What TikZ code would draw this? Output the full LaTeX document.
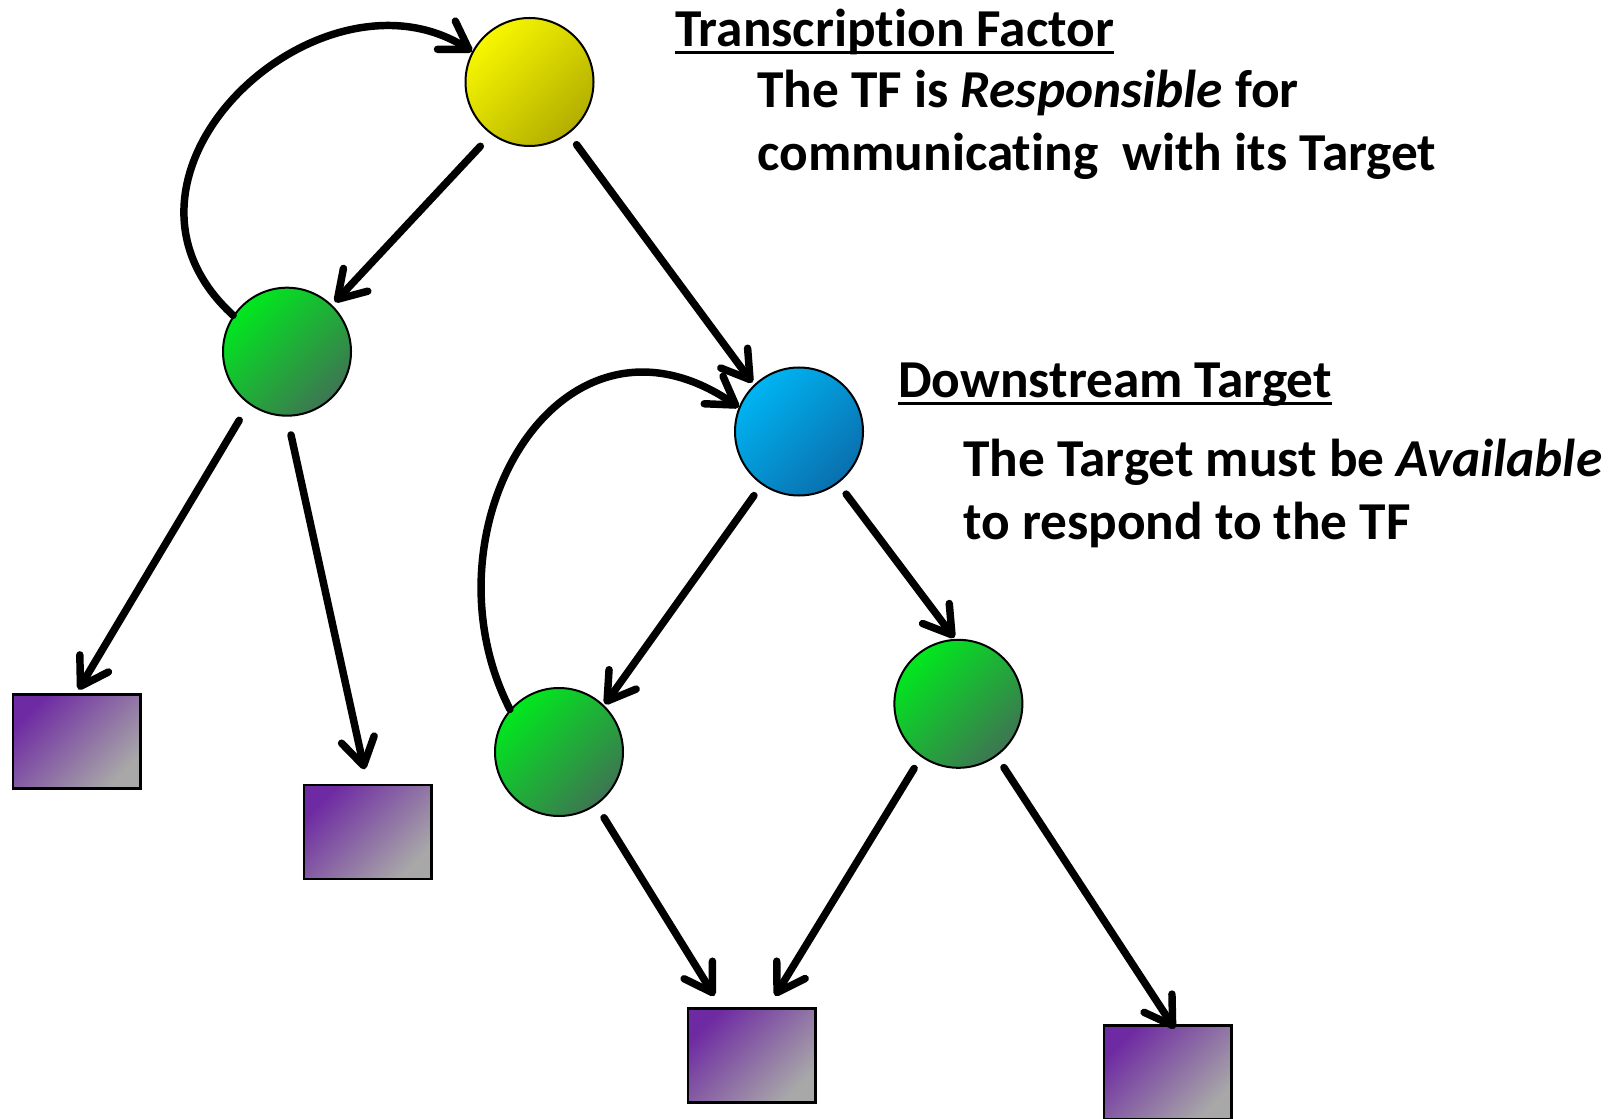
\documentclass[tikz,border=0pt]{standalone}
\usepackage{fontspec}
\setmainfont{Carlito}[Ligatures=CommonOff]
\usetikzlibrary{arrows.meta,calc}

\definecolor{yelA}{HTML}{F7F700}
\definecolor{yelB}{HTML}{B3AE00}
\definecolor{grnA}{HTML}{00E81E}
\definecolor{grnB}{HTML}{3E7552}
\definecolor{bluA}{HTML}{00B4F2}
\definecolor{bluB}{HTML}{0A6FAE}
\definecolor{purA}{HTML}{6E2AA2}
\definecolor{purB}{HTML}{A8A8A8}

\begin{document}
\begin{tikzpicture}[x=0.75pt,y=0.75pt,yscale=-1,xscale=1,
  ball/.style={circle,draw=black,line width=1.5pt,minimum size=96pt,inner sep=0pt},
  yball/.style={ball,top color=yelA,bottom color=yelB,shading angle=45},
  gball/.style={ball,top color=grnA,bottom color=grnB,shading angle=45},
  bball/.style={ball,top color=bluA,bottom color=bluB,shading angle=45},
  box/.style={rectangle,draw=black,line width=2pt,minimum width=95.5pt,minimum height=70.5pt,inner sep=0pt,
    top color=purA,bottom color=purB,shading angle=45},
  link/.style={line width=5.6pt,line cap=round,-{Straight Barb[length=20pt,width=25pt,round]}},
  lbl/.style={anchor=base west,inner sep=0pt,font=\fontsize{40}{48}\selectfont\bfseries},
  uline/.style={line width=2.3pt}]
\useasboundingbox (0,0) rectangle (1623,1119);

%Circles
\node (tf)  [yball] at (529.5,82) {};
\node (g1)  [gball] at (287,351.7) {};
\node (tgt) [bball] at (799,431.5) {};
\node (g2)  [gball] at (559,752) {};
\node (g3)  [gball] at (958.4,703.8) {};

%Boxes
\node (r1) [box] at (76.5,741.3) {};
\node (r2) [box] at (367.5,832) {};
\node (r3) [box] at (751.5,1055.5) {};
\node (r4) [box] at (1167.5,1072.5) {};

%Straight arrows
\draw [link,shorten <=12pt,shorten >=3pt] (tf.-126) -- (g1.46);
\draw [link,shorten <=10pt,shorten >=2pt] (tf.-53) -- (tgt.134);
\draw [link,shorten <=14pt,shorten >=3pt] (g1.-126) -- (r1.north);
\draw [link,shorten <=14pt,shorten >=11pt] (g1.-90) -- (r2.north);
\draw [link,shorten <=10pt,shorten >=1pt] (tgt.-125) -- (g2.46);
\draw [link,shorten <=10pt,shorten >=1pt] (tgt.-53) -- (g3.93);
\draw [link,shorten <=11pt,shorten >=10pt] (g2.-55) -- (r3.122);
\draw [link,shorten <=10pt,shorten >=10pt] (g3.-125) -- (r3.71);
\draw [link,shorten <=10pt,shorten >=-4pt] (g3.-54) -- (r4.85);

%Curved arrows
\draw [link] (g1.146) .. controls (80,175) and (320,-45) .. (tf.152);
\draw [link] (g2.139) .. controls (418,530) and (560,285) .. (tgt.158);

% Text Node
\node (hd1) [lbl] at (675,46.6) {Transcription Factor};
\draw [uline] ($(hd1.base west)+(0,6)$) -- ($(hd1.base east)+(0,6)$);
% Text Node
\node (tx1) [lbl] at (757,107.6) {The TF is \textit{Responsible} for};
% Text Node
\node (tx2) [lbl] at (757,170.8) {communicating~ with its Target};
% Text Node
\node (hd2) [lbl] at (898,397.5) {Downstream Target};
\draw [uline] ($(hd2.base west)+(0,6)$) -- ($(hd2.base east)+(0,6)$);
% Text Node
\node (tx3) [lbl] at (963,476) {The Target must be \textit{Available}};
% Text Node
\node (tx4) [lbl] at (963,539) {to respond to the TF};

\end{tikzpicture}
\end{document}
